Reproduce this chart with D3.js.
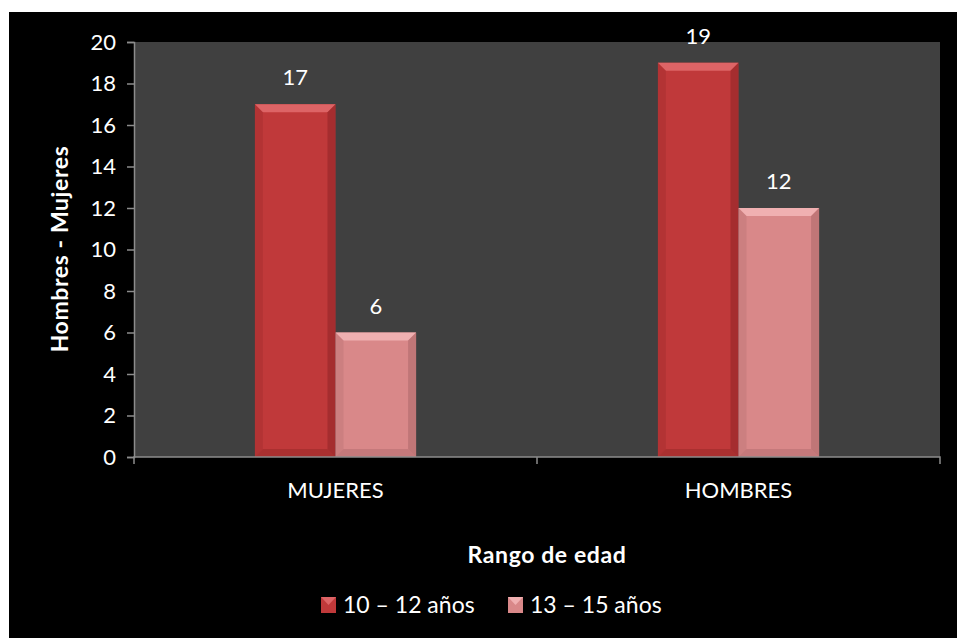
<!DOCTYPE html>
<meta charset="utf-8">
<style>
html,body{margin:0;background:#fff;}
svg text{font-family:Lato,"Open Sans",sans-serif;fill:#fff;}
</style>
<script src="https://d3js.org/d3.v7.min.js"></script>
<body>
<script>

var categories = ["MUJERES", "HOMBRES"];
var series = ["10 – 12 años", "13 – 15 años"];
var values = [[17, 6], [19, 12]];   // per category: [10-12, 13-15]
var yTicks = [0, 2, 4, 6, 8, 10, 12, 14, 16, 18, 20];

var width = 957, height = 638;
var colors = ["#c0393a", "#d98889"];
var light  = ["#dd6466", "#f0b0b1"];
var dark   = ["#8a2224", "#a86466"];

var margin = {left:134, right:17, top:42, bottom:181};

var svg = d3.select("body").append("svg")
    .attr("width", width)
    .attr("height", height);

svg.append("rect").attr("x",9).attr("y",12).attr("width",width-9).attr("height",height-12).attr("fill","#000");

var x = d3.scaleBand().domain(categories).range([margin.left, width-margin.right]);
var xs = d3.scaleBand().domain(series).range([0, x.bandwidth()]).paddingOuter(1.5).paddingInner(0);
var y = d3.scaleLinear().domain([0,20]).range([height-margin.bottom, margin.top]);

svg.append("rect")
    .attr("x", x.range()[0]).attr("y", y(20))
    .attr("width", x.range()[1]-x.range()[0]).attr("height", y(0)-y(20))
    .attr("fill","#404040");

// bars with a simple bevel
var b = 8;
categories.forEach(function(c, ci){
  series.forEach(function(s, si){
    var v = values[ci][si];
    var x0 = x(c) + xs(s), w = xs.bandwidth();
    var y0 = y(v), y1 = y(0);
    var g = svg.append("g");
    g.append("rect").attr("x",x0).attr("y",y0).attr("width",w).attr("height",y1-y0).attr("fill",colors[si]);
    g.append("polygon").attr("points",[[x0,y0],[x0+w,y0],[x0+w-b,y0+b],[x0+b,y0+b]].join(" ")).attr("fill",light[si]);
    g.append("polygon").attr("points",[[x0,y0],[x0+b,y0+b],[x0+b,y1-b],[x0,y1]].join(" ")).attr("fill",dark[si]).attr("opacity",0.25);
    g.append("polygon").attr("points",[[x0+w,y0],[x0+w-b,y0+b],[x0+w-b,y1-b],[x0+w,y1]].join(" ")).attr("fill",dark[si]).attr("opacity",0.5);
    g.append("polygon").attr("points",[[x0,y1],[x0+b,y1-b],[x0+w-b,y1-b],[x0+w,y1]].join(" ")).attr("fill",dark[si]).attr("opacity",0.4);
    svg.append("text").attr("x",x0+w/2).attr("y",y0-19).attr("text-anchor","middle")
      .style("font-size","22px").text(v);
  });
});

// axes
var yAxis = svg.append("g").attr("transform","translate("+margin.left+",0)")
  .call(d3.axisLeft(y).tickValues(yTicks).tickSize(7).tickPadding(11));
var xAxis = svg.append("g").attr("transform","translate(0,"+y(0)+")")
  .call(d3.axisBottom(x).tickSize(0).tickPadding(25));
[yAxis, xAxis].forEach(function(a){
  a.select(".domain").attr("stroke","#8c8c8c").attr("stroke-width",1.5);
  a.selectAll("line").attr("stroke","#8c8c8c").attr("stroke-width",1.5);
  a.selectAll("text").style("font-size","22px").attr("fill","#fff").style("font-family","Lato,'Open Sans',sans-serif");
});
xAxis.select(".domain").attr("d","M"+x.range()[0]+",7V0H"+x.range()[1]+"V7");
xAxis.selectAll(".xtick").data([x.range()[0] + x.bandwidth()]).enter().append("line")
  .attr("x1",function(d){return d;}).attr("x2",function(d){return d;}).attr("y1",0).attr("y2",7)
  .attr("stroke","#8c8c8c").attr("stroke-width",1.5);

svg.append("text").attr("transform","translate(68,249) rotate(-90)")
  .attr("text-anchor","middle").style("font-size","23px").style("font-weight","bold")
  .style("letter-spacing","0.6px").text("Hombres - Mujeres");
svg.append("text").attr("x",547).attr("y",563)
  .attr("text-anchor","middle").style("font-size","23px").style("font-weight","bold")
  .style("letter-spacing","0.6px").text("Rango de edad");

// legend
var legX = [321, 508];
series.forEach(function(s, si){
  var lx = legX[si], ly = 597;
  svg.append("rect").attr("x",lx).attr("y",ly).attr("width",15).attr("height",16).attr("fill",colors[si]);
  svg.append("polygon").attr("points",[[lx,ly],[lx+15,ly],[lx+7.5,ly+8]].join(" ")).attr("fill",light[si]);
  svg.append("text").attr("x",lx+22).attr("y",ly+16).style("font-size","23px").text(s);
});
</script>
</body>
</html>
